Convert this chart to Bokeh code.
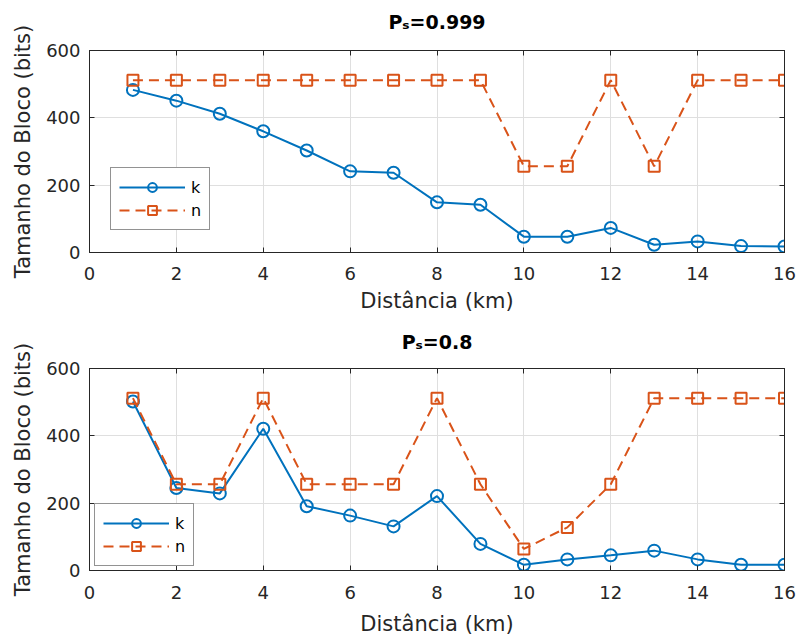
from bokeh.plotting import figure
from bokeh.models import (Legend, LegendItem, FixedTicker, LinearAxis,
                          Range1d)
from bokeh.layouts import column
from bokeh.embed import file_html
from bokeh.resources import INLINE

# ---------------- data ----------------
distance = [1, 2, 3, 4, 5, 6, 7, 8, 9, 10, 11, 12, 13, 14, 15, 16]

k_top = [483, 451, 412, 360, 303, 241, 237, 149, 142, 47, 47, 73, 23, 33, 19, 18]
n_top = [512, 512, 512, 512, 512, 512, 512, 512, 512, 256, 256, 512, 256, 512, 512, 512]

k_bottom = [502, 245, 229, 421, 191, 163, 131, 221, 79, 17, 33, 45, 59, 33, 17, 17]
n_bottom = [512, 256, 256, 512, 256, 256, 256, 512, 256, 64, 128, 256, 512, 512, 512, 512]

titles = ["Pₛ=0.999", "Pₛ=0.8"]
x_ticks = [0, 2, 4, 6, 8, 10, 12, 14, 16]
y_ticks = [0, 200, 400, 600]

BLUE = "#0072BD"
ORANGE = "#D95319"
AX = "#262626"
FONT = "DejaVu Sans"


def make_plot(k, n, title, height, top, bottom, leg_loc, title_gap,
              tick_standoff, label_standoff):
    p = figure(width=797, height=height, output_backend="svg",
               toolbar_location=None,
               x_range=Range1d(0, 16), y_range=Range1d(0, 600),
               min_border_left=89, min_border_right=13,
               min_border_top=top, min_border_bottom=bottom)
    p.background_fill_color = "white"
    p.border_fill_color = "white"
    p.outline_line_color = AX
    p.outline_line_width = 1

    for ax in (p.xaxis[0], p.yaxis[0]):
        ax.axis_line_color = AX
        ax.major_tick_line_color = AX
        ax.major_tick_in = 5
        ax.major_tick_out = 0
        ax.minor_tick_line_color = None
        ax.major_label_text_color = AX
        ax.major_label_text_font = FONT
        ax.major_label_text_font_size = "18px"
        ax.axis_label_text_color = AX
        ax.axis_label_text_font = FONT
        ax.axis_label_text_font_size = "21px"
        ax.axis_label_text_font_style = "normal"
    p.xaxis.ticker = FixedTicker(ticks=x_ticks)
    p.yaxis.ticker = FixedTicker(ticks=y_ticks)
    p.xaxis.axis_label = "Distância (km)"
    p.yaxis.axis_label = "Tamanho do Bloco (bits)"
    p.xaxis.major_label_standoff = tick_standoff
    p.xaxis.axis_label_standoff = label_standoff
    p.yaxis.major_label_standoff = 9
    p.yaxis.axis_label_standoff = 8

    # box ticks on right and top; the top axis carries the panel title
    r_ax = LinearAxis(ticker=FixedTicker(ticks=y_ticks), major_tick_in=5,
                      major_tick_out=0, minor_tick_line_color=None,
                      axis_line_color=AX, major_tick_line_color=AX,
                      major_label_standoff=0,
                      major_label_overrides={t: "" for t in y_ticks})
    t_ax = LinearAxis(ticker=FixedTicker(ticks=x_ticks), major_tick_in=5,
                      major_tick_out=0, minor_tick_line_color=None,
                      axis_line_color=AX, major_tick_line_color=AX,
                      major_label_standoff=0,
                      major_label_overrides={t: "" for t in x_ticks},
                      axis_label=title, axis_label_standoff=title_gap,
                      axis_label_text_font=FONT,
                      axis_label_text_font_size="19px",
                      axis_label_text_font_style="bold",
                      axis_label_text_color="black")
    p.add_layout(r_ax, "right")
    p.add_layout(t_ax, "above")

    p.xgrid.ticker = FixedTicker(ticks=x_ticks)
    p.ygrid.ticker = FixedTicker(ticks=y_ticks)
    p.xgrid.grid_line_color = "#dfdfdf"
    p.ygrid.grid_line_color = "#dfdfdf"

    kl = p.line(distance, k, line_color=BLUE, line_width=2)
    ks = p.scatter(distance, k, marker="circle", size=12, fill_color=None,
                   line_color=BLUE, line_width=2)
    nl = p.line(distance, n, line_color=ORANGE, line_width=2, line_dash="10 6")
    ns = p.scatter(distance, n, marker="square", size=11, fill_color=None,
                   line_color=ORANGE, line_width=2)

    legend = Legend(items=[LegendItem(label="k", renderers=[kl, ks]),
                           LegendItem(label="n", renderers=[nl, ns])],
                    location=leg_loc, glyph_width=66, glyph_height=22,
                    spacing=1, padding=8, label_standoff=6, label_width=10,
                    margin=0,
                    label_text_font=FONT, label_text_font_size="16px",
                    label_text_color="black",
                    border_line_color=AX, border_line_width=1,
                    background_fill_color="white", background_fill_alpha=1)
    p.add_layout(legend)
    return p


p1 = make_plot(k_top, n_top, titles[0], 318, 50, 66, (21, 22), 18, 14, 6)
p2 = make_plot(k_bottom, n_bottom, titles[1], 324, 50, 72, (5, 4), 16, 15, 10)

layout = column(p1, p2, spacing=0)
open("out.html", "w").write(file_html(layout, INLINE))
